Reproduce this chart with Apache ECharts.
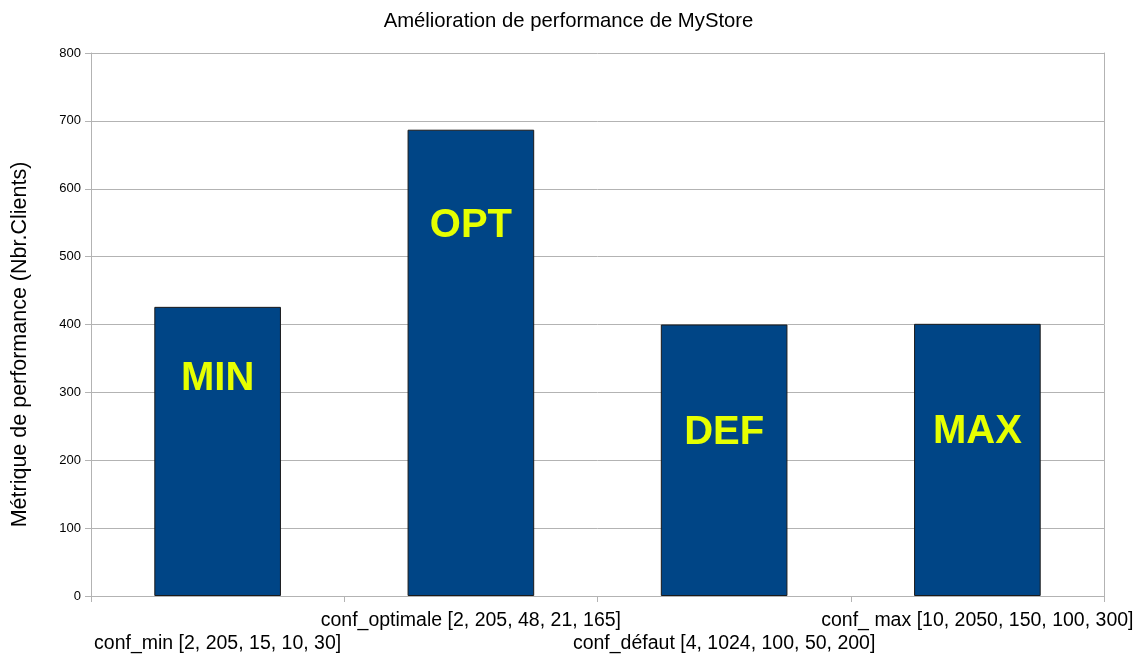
<!DOCTYPE html>
<html>
<head>
<meta charset="utf-8">
<script src="https://cdn.jsdelivr.net/npm/echarts@6/dist/echarts.min.js"></script>
<style>
  html, body { margin: 0; padding: 0; background: #fff; }
  #chart { width: 1137px; height: 655px; }
</style>
</head>
<body>
<div id="chart"></div>
<script>
// data
const categories = [
  'conf_min [2, 205, 15, 10, 30]',
  'conf_optimale [2, 205, 48, 21, 165]',
  'conf_défaut [4, 1024, 100, 50, 200]',
  'conf_ max [10, 2050, 150, 100, 300]'
]
const barLabels = ['MIN', 'OPT', 'DEF', 'MAX']
const values = [426, 687, 400, 401]

// distance of each text label below its bar top (px)
const labelDist = [52, 76, 88, 88]

const chart = echarts.init(document.getElementById('chart'))

const gray = '#b3b3b3'
const font = '"Liberation Sans", Arial, sans-serif'

chart.setOption({
  animation: false,
  title: {
    text: 'Amélioration de performance de MyStore',
    left: 'center',
    top: 6,
    textStyle: { fontFamily: font, fontSize: 20.3, fontWeight: 'normal', color: '#000' }
  },
  grid: { left: 91, right: 33, top: 53, bottom: 58, containLabel: false },
  xAxis: {
    type: 'category',
    data: categories,
    axisLine: { lineStyle: { color: gray } },
    axisTick: { show: true, length: 6, lineStyle: { color: gray } },
    axisLabel: {
      interval: 0,
      margin: 13,
      fontFamily: font,
      fontSize: 19.5,
      color: '#000',
      lineHeight: 23,
      formatter: function (v, i) {
        return i % 2 === 0 ? '\n' + v : v
      }
    }
  },
  yAxis: [{
    type: 'value',
    min: 0,
    max: 800,
    interval: 100,
    name: 'Métrique de performance (Nbr.Clients)',
    nameLocation: 'middle',
    nameGap: 60,
    nameTextStyle: { fontFamily: font, fontSize: 21.5, color: '#000', padding: [0, 40, 0, 0] },
    axisLine: { show: true, lineStyle: { color: gray } },
    axisTick: { show: true, length: 6, lineStyle: { color: gray } },
    axisLabel: { fontFamily: font, fontSize: 13, color: '#000', margin: 10 },
    splitLine: { lineStyle: { color: gray } }
  }, {
    type: 'value',
    min: 0,
    max: 800,
    interval: 100,
    position: 'right',
    axisLine: { show: true, lineStyle: { color: gray } },
    axisTick: { show: false },
    axisLabel: { show: false },
    splitLine: { show: false }
  }],
  series: [{
    type: 'bar',
    barWidth: '50%',
    data: values.map(function (v, i) {
      return {
        value: v,
        label: {
          show: true,
          position: 'insideTop',
          distance: labelDist[i],
          formatter: barLabels[i]
        }
      }
    }),
    itemStyle: { color: '#004586', borderColor: '#1a1a1a', borderWidth: 1 },
    label: {
      fontFamily: font,
      fontSize: 40,
      fontWeight: 'bold',
      color: '#e6ff00'
    }
  }]
})
</script>
</body>
</html>
